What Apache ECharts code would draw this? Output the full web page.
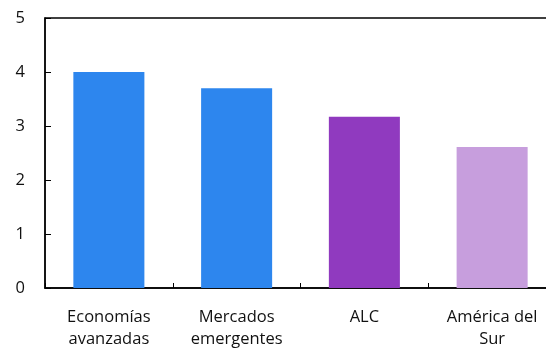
<!DOCTYPE html>
<html>
<head>
<meta charset="utf-8">
<script src="https://cdn.jsdelivr.net/npm/echarts@6/dist/echarts.min.js"></script>
<style>
  html, body { margin: 0; padding: 0; background: #fff; }
  #chart { width: 546px; height: 348px; }
</style>
</head>
<body>
<div id="chart"></div>
<script>
// Regions and their values
const categories = ['Economías\navanzadas', 'Mercados\nemergentes', 'ALC', 'América del\nSur'];
const values = [4.0, 3.7, 3.17, 2.61];
const barColors = ['#2D86EE', '#2D86EE', '#903ABF', '#C79EDD'];
const yTicks = [0, 1, 2, 3, 4, 5];

const fontFamily = '"Open Sans", "Noto Sans", sans-serif';
const chart = echarts.init(document.getElementById('chart'), null, { renderer: 'canvas' });

chart.setOption({
  animation: false,
  backgroundColor: '#fff',
  grid: {
    left: 45, top: 18, width: 511, height: 270,
    outerBoundsMode: 'none',
    show: true, borderColor: '#000', borderWidth: 1.3, backgroundColor: 'transparent'
  },
  xAxis: {
    type: 'category',
    data: categories,
    axisLine: { lineStyle: { color: '#000', width: 1.5 } },
    axisTick: { show: true, inside: true, length: 5, lineStyle: { color: '#000', width: 1 } },
    axisLabel: {
      color: '#111', fontSize: 16.5, fontFamily: fontFamily,
      lineHeight: 22, margin: 18, interval: 0
    }
  },
  yAxis: {
    type: 'value',
    min: yTicks[0], max: yTicks[yTicks.length - 1], interval: 1,
    axisLine: { show: true, lineStyle: { color: '#000', width: 1.5 } },
    axisTick: { show: true, inside: true, length: 6, lineStyle: { color: '#000', width: 1 } },
    splitLine: { show: false },
    axisLabel: { color: '#111', fontSize: 16.5, fontFamily: fontFamily, margin: 20 }
  },
  series: [{
    type: 'bar',
    barWidth: '55.6%',
    data: values.map((v, i) => ({ value: v, itemStyle: { color: barColors[i] } }))
  }]
});
</script>
</body>
</html>
